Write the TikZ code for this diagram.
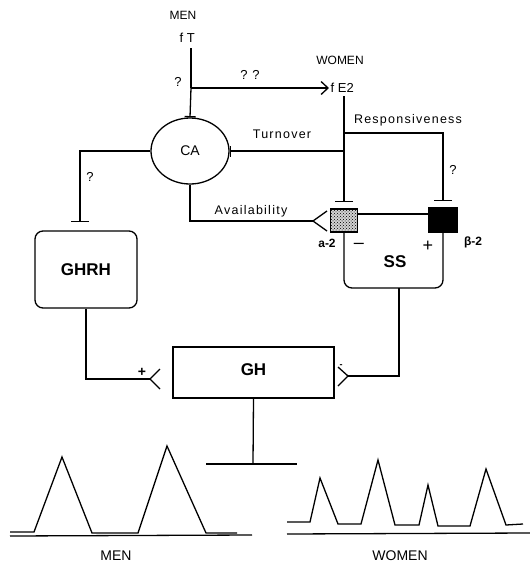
\documentclass[tikz,border=0pt]{standalone}
\usepackage{fontspec}
\setmainfont{Liberation Sans}
\newfontfamily\spacedfont[LetterSpace=10]{Liberation Sans}
\usetikzlibrary{arrows.meta,patterns,shapes.geometric}
\begin{document}
\begin{tikzpicture}[x=1pt,y=-1pt,line width=1.3pt,
  lbl/.style={inner sep=0pt,font=\fontsize{13}{13}\selectfont},
  slbl/.style={inner sep=0pt,font=\fontsize{12.5}{12.5}\selectfont\spacedfont},
  big/.style={font=\fontsize{17}{17}\selectfont\bfseries},
  bottomlbl/.style={inner sep=0pt,font=\fontsize{14}{14}\selectfont},
  inh/.style={-{Bar[width=18pt,line width=1.3pt]}},
  inhs/.style={-{Bar[width=11pt,line width=1.3pt]}},
  stim/.style={-{Straight Barb[length=7pt,width=13pt,line width=1.3pt]}},
  sign/.style={inner sep=0pt,font=\fontsize{18}{18}\selectfont}]
\useasboundingbox (0,0) rectangle (530,563);

% top labels
\node[lbl,font=\fontsize{12}{12}\selectfont] (menT) at (183,15) {MEN};
\node[lbl,anchor=west] (fT) at (179,38) {f T};
\node[lbl,font=\fontsize{12}{12}\selectfont] (women) at (340,60) {WOMEN};
\node[lbl,anchor=west] (fE2) at (330,88) {f E2};
\node[lbl] (q1) at (178,82) {?};
\node[lbl] (qq) at (250,75) {? ?};

\coordinate (fTb) at (191,48);
\coordinate (jn) at (191,88);

% CA
\node[draw,ellipse,minimum width=78pt,minimum height=66pt,inner sep=0pt,
      font=\fontsize{14}{14}\selectfont] (CA) at (190,151) {CA};

\draw (fTb) -- (jn);
\draw[inhs] (jn) -- (CA.north);
\draw[stim] (jn) -- ([xshift=-1pt]fE2.west);

% receptor squares
\node[draw,fill=gray!35,postaction={pattern=crosshatch dots},minimum width=27pt,minimum height=23pt,inner sep=0pt] (a2) at (344,220.5) {};
\node[draw,fill=black,minimum width=28pt,minimum height=24pt,inner sep=0pt] (b2) at (443,220) {};
\node[lbl,font=\fontsize{12}{12}\selectfont\bfseries] (a2l) at (327,243) {a-2};
\node[lbl,font=\fontsize{12}{12}\selectfont\bfseries] (b2l) at (473,242) {β-2};

% E2 branches
\coordinate (e2b) at (344,96);
\coordinate (e2t) at (344,133);
\coordinate (e2m) at (344,151);
\draw[inh] (e2b) -- ([yshift=6pt]a2.north);
\draw[inh] (e2t) -| ([yshift=6pt]b2.north);
\draw[inhs] (e2m) -- (CA);
\node[slbl] (resp) at (408,120) {Responsiveness};
\node[lbl] (q2) at (453,170) {?};
\node[slbl] (turn) at (282,134) {Turnover};

% availability
\coordinate (rA) at (313,221);
\draw (CA.south) |- (rA);
\draw (rA) -- ++(14,-10) (rA) -- ++(14,10);
\node[slbl] (avail) at (251,211) {Availability};

% SS
\draw (a2.east |- 0,214) -- (b2.west |- 0,214);
\draw[rounded corners=8pt] (a2.south) -- (344,288) -- (443,288) -- (b2.south);
\node[big,inner sep=0pt] (SS) at (395,262) {SS};
\node[sign] (minus) at (359,246) {–};
\node[sign] (plus) at (428,246) {+};
\coordinate (ssb) at (399,288);

% GHRH
\node[draw,rounded corners=8pt,minimum width=102pt,minimum height=77pt,big] (GHRH) at (86,269.5) {GHRH};
\coordinate (gbar) at (80,222);
\draw[inh] (CA.west) -| (gbar);
\node[lbl] (q3) at (90,177) {?};

% GH
\node[draw,minimum width=161pt,minimum height=51pt,big] (GH) at (253.5,372.5) {\raisebox{5pt}{GH}};

\coordinate (rL) at (150,379);
\draw (GHRH.south) |- (rL);
\draw (rL) -- ++(10,-10) (rL) -- ++(10,10);
\node[inner sep=0pt,font=\fontsize{14}{14}\selectfont\bfseries] (plusL) at (142,372) {+};

\coordinate (rR) at (348,376);
\draw (ssb) |- (rR);
\draw (rR) -- ++(-10,-9) (rR) -- ++(-10,10);
\node[inner sep=0pt,font=\fontsize{9}{9}\selectfont\bfseries] (minusR) at (341,366) {-};

% GH output
\coordinate (gb) at (253,464);
\coordinate (gl) at (206,464);
\coordinate (gr) at (297,464);
\draw (GH.south) -- (gb);
\draw (gl) -- (gr);

% pulses men
\draw (10,536) -- (252,535);
\draw (10,532) -- (34,532) -- (62,457) -- (92,533) -- (138,533) -- (167,446) -- (206,533) -- (237,533);
\node[bottomlbl] (menB) at (116,556) {MEN};

% pulses women
\draw (287,534) -- (530,533);
\draw (287,522) -- (310,522) -- (320,478) -- (338,524) -- (361,524) -- (378,460) -- (395,525) -- (419,525) -- (428,485) -- (438,526) -- (470,526) -- (486,469) -- (506,525) -- (523,524);
\node[bottomlbl] (womenB) at (400,556) {WOMEN};
\end{tikzpicture}
\end{document}
